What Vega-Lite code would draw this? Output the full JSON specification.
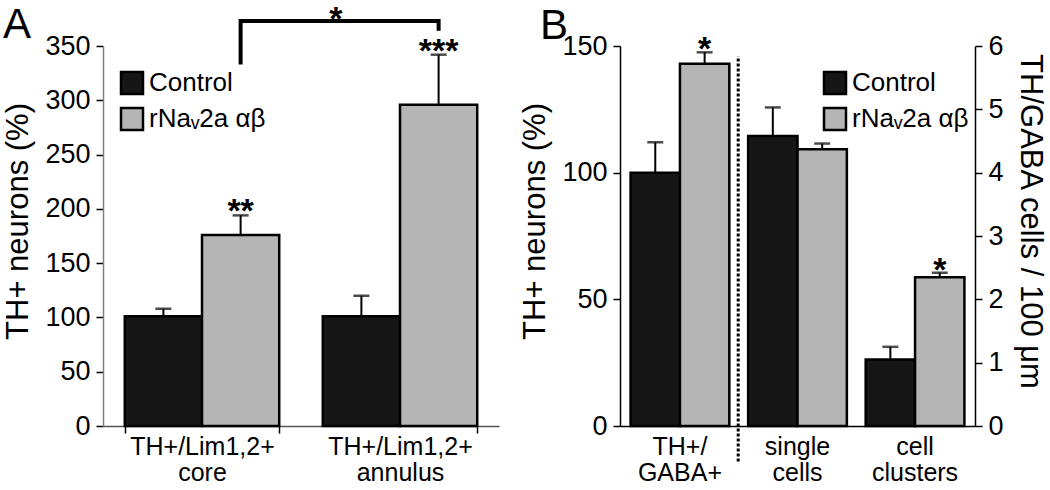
{
  "$schema": "https://vega.github.io/schema/vega-lite/v6.json",
  "padding": {"left": 2, "top": 3, "right": 2, "bottom": 0},
  "background": "white",
  "config": {
    "font": "Liberation Sans",
    "view": {"stroke": null},
    "axis": {"grid": false, "labelColor": "black", "titleColor": "black", "titleFontWeight": "normal", "labelFont": "Liberation Sans", "titleFont": "Liberation Sans", "tickColor": "black", "domainColor": "black", "tickWidth": 1.5, "domainWidth": 1.5, "tickSize": 7},
    "axisY": {"labelFontSize": 27, "titleFontSize": 31, "labelPadding": 6, "titlePadding": 10, "titleY": 175},
    "axisX": {"labelFontSize": 25, "labelLineHeight": 26, "labelAngle": 0},
    "legend": {"symbolType": "square", "symbolSize": 484, "symbolStrokeColor": "black", "symbolStrokeWidth": 2.5, "symbolOpacity": 1, "labelFontSize": 26, "labelColor": "black", "labelFont": "Liberation Sans", "labelOffset": 4, "rowPadding": 4},
    "title": {"fontSize": 42, "fontWeight": "normal", "anchor": "start", "frame": "bounds", "color": "black", "font": "Liberation Sans"}
  },
  "datasets": {
    "a": [
      {"cat": "TH+/Lim1,2+|core", "grp": "Control", "val": 101, "hi": 108, "sig": ""},
      {"cat": "TH+/Lim1,2+|core", "grp": "rNaᵥ2a αβ", "val": 176, "hi": 194, "sig": "**"},
      {"cat": "TH+/Lim1,2+|annulus", "grp": "Control", "val": 101, "hi": 120, "sig": ""},
      {"cat": "TH+/Lim1,2+|annulus", "grp": "rNaᵥ2a αβ", "val": 296, "hi": 342, "sig": "***"}
    ],
    "bracket": [
      {"cat": "TH+/Lim1,2+|core", "grp": "rNaᵥ2a αβ", "v": 333, "ord": 1},
      {"cat": "TH+/Lim1,2+|core", "grp": "rNaᵥ2a αβ", "v": 373, "ord": 2},
      {"cat": "TH+/Lim1,2+|annulus", "grp": "rNaᵥ2a αβ", "v": 373, "ord": 3},
      {"cat": "TH+/Lim1,2+|annulus", "grp": "rNaᵥ2a αβ", "v": 364, "ord": 4}
    ],
    "astar": [
      {"cat": "TH+/Lim1,2+|annulus", "v": 373, "t": "*"}
    ],
    "b1": [
      {"cat": "TH+/|GABA+", "grp": "Control", "val": 100, "hi": 112, "sig": ""},
      {"cat": "TH+/|GABA+", "grp": "rNaᵥ2a αβ", "val": 143, "hi": 147.5, "sig": "*"}
    ],
    "b2": [
      {"cat": "single|cells", "grp": "Control", "val": 4.58, "hi": 5.03, "sig": ""},
      {"cat": "single|cells", "grp": "rNaᵥ2a αβ", "val": 4.37, "hi": 4.46, "sig": ""},
      {"cat": "cell|clusters", "grp": "Control", "val": 1.05, "hi": 1.25, "sig": ""},
      {"cat": "cell|clusters", "grp": "rNaᵥ2a αβ", "val": 2.35, "hi": 2.42, "sig": "*"}
    ],
    "bdot": [
      {"cat": "TH+/|GABA+", "y1": -14, "y2": 146}
    ]
  },
  "hconcat": [
    {
      "width": 396,
      "height": 380,
      "title": {"text": "A", "offset": -44},
      "layer": [
        {
          "data": {"name": "a"},
          "mark": {"type": "bar", "stroke": "black", "strokeWidth": 2.5},
          "encoding": {
            "x": {"field": "cat", "type": "nominal", "sort": ["TH+/Lim1,2+|core", "TH+/Lim1,2+|annulus"], "scale": {"paddingInner": 0.22, "paddingOuter": 0.11}, "axis": {"title": null, "labelExpr": "split(datum.label, '|')", "tickBand": "extent", "domainColor": "#555555", "labelPadding": 1}},
            "xOffset": {"field": "grp", "type": "nominal", "scale": {"domain": ["Control", "rNaᵥ2a αβ"]}},
            "y": {"field": "val", "type": "quantitative", "scale": {"domain": [0, 350], "nice": false}, "axis": {"title": "TH+ neurons (%)", "values": [0, 50, 100, 150, 200, 250, 300, 350], "domainColor": "#808080"}},
            "color": {"field": "grp", "type": "nominal", "scale": {"domain": ["Control", "rNaᵥ2a αβ"], "range": ["#161616", "#b5b5b5"]}, "legend": {"title": null, "orient": "none", "legendX": 16, "legendY": 24}}
          }
        },
        {
          "data": {"name": "a"},
          "mark": {"type": "rule", "strokeWidth": 2, "color": "black"},
          "encoding": {
            "x": {"field": "cat", "type": "nominal", "sort": ["TH+/Lim1,2+|core", "TH+/Lim1,2+|annulus"], "axis": {"title": null}},
            "xOffset": {"field": "grp", "type": "nominal", "scale": {"domain": ["Control", "rNaᵥ2a αβ"]}},
            "y": {"field": "val", "type": "quantitative", "scale": {"domain": [0, 350], "nice": false}},
            "y2": {"field": "hi"}
          }
        },
        {
          "data": {"name": "a"},
          "mark": {"type": "tick", "thickness": 2.5, "size": 16, "color": "black"},
          "encoding": {
            "x": {"field": "cat", "type": "nominal", "sort": ["TH+/Lim1,2+|core", "TH+/Lim1,2+|annulus"], "axis": {"title": null}},
            "xOffset": {"field": "grp", "type": "nominal", "scale": {"domain": ["Control", "rNaᵥ2a αβ"]}},
            "y": {"field": "hi", "type": "quantitative", "scale": {"domain": [0, 350], "nice": false}}
          }
        },
        {
          "data": {"name": "a"},
          "mark": {"type": "text", "fontSize": 34, "fontWeight": "bold", "baseline": "alphabetic", "dy": 7, "color": "black"},
          "encoding": {
            "x": {"field": "cat", "type": "nominal", "sort": ["TH+/Lim1,2+|core", "TH+/Lim1,2+|annulus"], "axis": {"title": null}},
            "xOffset": {"field": "grp", "type": "nominal", "scale": {"domain": ["Control", "rNaᵥ2a αβ"]}},
            "y": {"field": "hi", "type": "quantitative", "scale": {"domain": [0, 350], "nice": false}},
            "text": {"field": "sig"}
          }
        },
        {
          "data": {"name": "bracket"},
          "mark": {"type": "line", "strokeWidth": 4, "color": "black", "strokeJoin": "miter", "clip": false},
          "encoding": {
            "x": {"field": "cat", "type": "nominal", "sort": ["TH+/Lim1,2+|core", "TH+/Lim1,2+|annulus"], "axis": {"title": null}},
            "xOffset": {"field": "grp", "type": "nominal", "scale": {"domain": ["Control", "rNaᵥ2a αβ"]}},
            "y": {"field": "v", "type": "quantitative", "scale": {"domain": [0, 350], "nice": false}},
            "order": {"field": "ord", "type": "quantitative"}
          }
        },
        {
          "data": {"name": "astar"},
          "mark": {"type": "text", "fontSize": 34, "fontWeight": "bold", "baseline": "alphabetic", "dy": 9, "dx": 13, "color": "black"},
          "encoding": {
            "x": {"field": "cat", "type": "nominal", "sort": ["TH+/Lim1,2+|core", "TH+/Lim1,2+|annulus"], "bandPosition": 0, "axis": {"title": null}},
            "y": {"field": "v", "type": "quantitative", "scale": {"domain": [0, 350], "nice": false}},
            "text": {"field": "t"}
          }
        }
      ]
    },
    {
      "width": 355,
      "height": 380,
      "title": {"text": "B", "offset": -16, "dx": 20},
      "layer": [
        {
          "layer": [
            {
              "data": {"name": "b1"},
              "mark": {"type": "bar", "stroke": "black", "strokeWidth": 2.5},
              "encoding": {
                "x": {"field": "cat", "type": "nominal", "scale": {"domain": ["TH+/|GABA+", "single|cells", "cell|clusters"], "paddingInner": 0.16, "paddingOuter": 0.09}, "axis": {"title": null, "labelExpr": "split(datum.label, '|')", "ticks": false, "labelPadding": 8}},
                "xOffset": {"field": "grp", "type": "nominal", "scale": {"domain": ["Control", "rNaᵥ2a αβ"]}},
                "y": {"field": "val", "type": "quantitative", "scale": {"domain": [0, 150], "nice": false}, "axis": {"title": "TH+ neurons (%)", "values": [0, 50, 100, 150], "orient": "left"}},
                "color": {"field": "grp", "type": "nominal", "scale": {"domain": ["Control", "rNaᵥ2a αβ"], "range": ["#161616", "#b5b5b5"]}, "legend": {"title": null, "orient": "none", "legendX": 202, "legendY": 24}}
              }
            },
            {
              "data": {"name": "b1"},
              "mark": {"type": "rule", "strokeWidth": 2, "color": "black"},
              "encoding": {
                "x": {"field": "cat", "type": "nominal", "axis": {"title": null}},
                "xOffset": {"field": "grp", "type": "nominal", "scale": {"domain": ["Control", "rNaᵥ2a αβ"]}},
                "y": {"field": "val", "type": "quantitative", "scale": {"domain": [0, 150], "nice": false}},
                "y2": {"field": "hi"}
              }
            },
            {
              "data": {"name": "b1"},
              "mark": {"type": "tick", "thickness": 2.5, "size": 16, "color": "black"},
              "encoding": {
                "x": {"field": "cat", "type": "nominal", "axis": {"title": null}},
                "xOffset": {"field": "grp", "type": "nominal", "scale": {"domain": ["Control", "rNaᵥ2a αβ"]}},
                "y": {"field": "hi", "type": "quantitative", "scale": {"domain": [0, 150], "nice": false}}
              }
            },
            {
              "data": {"name": "b1"},
              "mark": {"type": "text", "fontSize": 34, "fontWeight": "bold", "baseline": "alphabetic", "dy": 8, "color": "black"},
              "encoding": {
                "x": {"field": "cat", "type": "nominal", "axis": {"title": null}},
                "xOffset": {"field": "grp", "type": "nominal", "scale": {"domain": ["Control", "rNaᵥ2a αβ"]}},
                "y": {"field": "hi", "type": "quantitative", "scale": {"domain": [0, 150], "nice": false}},
                "text": {"field": "sig"}
              }
            },
            {
              "data": {"name": "bdot"},
              "mark": {"type": "rule", "strokeWidth": 3, "strokeDash": [3, 2], "color": "black", "clip": false},
              "encoding": {
                "x": {"field": "cat", "type": "nominal", "bandPosition": 1.09, "axis": {"title": null}},
                "y": {"field": "y1", "type": "quantitative", "scale": {"domain": [0, 150], "nice": false}},
                "y2": {"field": "y2"}
              }
            }
          ]
        },
        {
          "layer": [
            {
              "data": {"name": "b2"},
              "mark": {"type": "bar", "stroke": "black", "strokeWidth": 2.5},
              "encoding": {
                "x": {"field": "cat", "type": "nominal", "axis": {"title": null}},
                "xOffset": {"field": "grp", "type": "nominal", "scale": {"domain": ["Control", "rNaᵥ2a αβ"]}},
                "y": {"field": "val", "type": "quantitative", "scale": {"domain": [0, 6], "nice": false}, "axis": {"title": "TH/GABA cells / 100 μm", "values": [0, 1, 2, 3, 4, 5, 6], "format": "d", "orient": "right"}},
                "color": {"field": "grp", "type": "nominal", "scale": {"domain": ["Control", "rNaᵥ2a αβ"], "range": ["#161616", "#b5b5b5"]}, "legend": {"title": null, "orient": "none", "legendX": 202, "legendY": 24}}
              }
            },
            {
              "data": {"name": "b2"},
              "mark": {"type": "rule", "strokeWidth": 2, "color": "black"},
              "encoding": {
                "x": {"field": "cat", "type": "nominal", "axis": {"title": null}},
                "xOffset": {"field": "grp", "type": "nominal", "scale": {"domain": ["Control", "rNaᵥ2a αβ"]}},
                "y": {"field": "val", "type": "quantitative", "scale": {"domain": [0, 6], "nice": false}},
                "y2": {"field": "hi"}
              }
            },
            {
              "data": {"name": "b2"},
              "mark": {"type": "tick", "thickness": 2.5, "size": 16, "color": "black"},
              "encoding": {
                "x": {"field": "cat", "type": "nominal", "axis": {"title": null}},
                "xOffset": {"field": "grp", "type": "nominal", "scale": {"domain": ["Control", "rNaᵥ2a αβ"]}},
                "y": {"field": "hi", "type": "quantitative", "scale": {"domain": [0, 6], "nice": false}}
              }
            },
            {
              "data": {"name": "b2"},
              "mark": {"type": "text", "fontSize": 34, "fontWeight": "bold", "baseline": "alphabetic", "dy": 8, "color": "black"},
              "encoding": {
                "x": {"field": "cat", "type": "nominal", "axis": {"title": null}},
                "xOffset": {"field": "grp", "type": "nominal", "scale": {"domain": ["Control", "rNaᵥ2a αβ"]}},
                "y": {"field": "hi", "type": "quantitative", "scale": {"domain": [0, 6], "nice": false}},
                "text": {"field": "sig"}
              }
            }
          ]
        }
      ],
      "resolve": {"scale": {"y": "independent"}}
    }
  ],
  "spacing": 20,
  "resolve": {"scale": {"color": "independent", "x": "independent", "xOffset": "independent"}, "legend": {"color": "independent"}}
}
